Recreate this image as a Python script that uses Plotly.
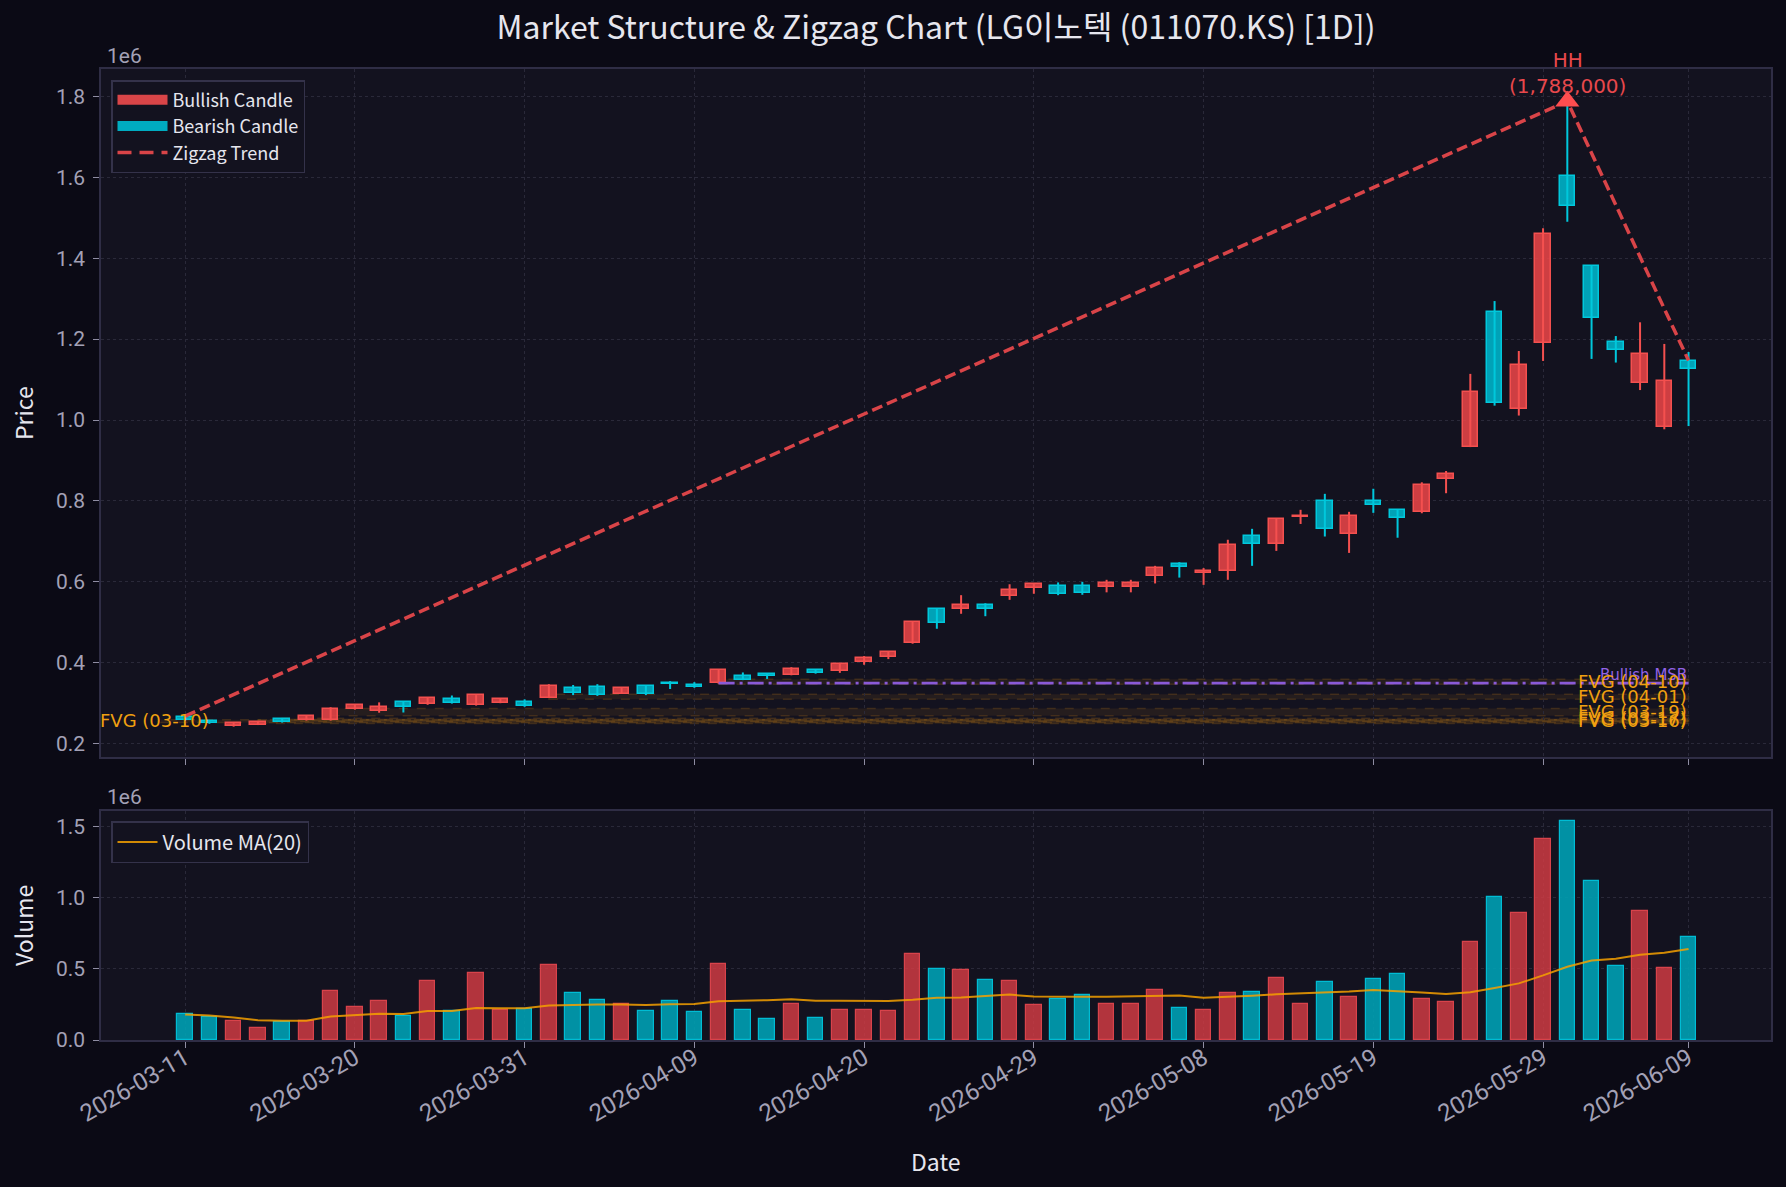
import plotly.graph_objects as go
import pandas as pd

dates = ["2026-03-11","2026-03-12","2026-03-13","2026-03-16","2026-03-17","2026-03-18","2026-03-19","2026-03-20",
         "2026-03-23","2026-03-24","2026-03-25","2026-03-26","2026-03-27","2026-03-30","2026-03-31",
         "2026-04-01","2026-04-02","2026-04-03","2026-04-06","2026-04-07","2026-04-08","2026-04-09",
         "2026-04-10","2026-04-13","2026-04-14","2026-04-15","2026-04-16","2026-04-17","2026-04-20",
         "2026-04-21","2026-04-22","2026-04-23","2026-04-24","2026-04-27","2026-04-28","2026-04-29",
         "2026-04-30","2026-05-01","2026-05-04","2026-05-05","2026-05-06","2026-05-07","2026-05-08",
         "2026-05-11","2026-05-12","2026-05-13","2026-05-14","2026-05-15","2026-05-18","2026-05-19",
         "2026-05-20","2026-05-21","2026-05-22","2026-05-26","2026-05-27","2026-05-28","2026-05-29",
         "2026-06-01","2026-06-02","2026-06-04","2026-06-05","2026-06-08","2026-06-09"]

open_ = [265000,256000,243000,247000,260000,257500,257500,285000,280000,302000,
         297000,309500,294500,301000,303000,313500,337000,340000,323500,341500,
         349500,344000,349000,366000,372000,370000,381000,380000,402500,413000,
         449000,534000,533500,541500,565500,585500,588500,588500,587000,587000,
         615500,644500,621500,628000,713000,694500,760000,799500,717000,800000,
         777000,773500,855000,934000,1266000,1028000,1191000,1602000,1381500,1193500,
         1091000,983500,1147000]
high = [268000,258000,251000,256000,261000,269000,290000,296000,302000,303000,
        313000,319000,320000,311000,309500,347000,345000,347000,340000,345000,
        354500,352000,382000,376000,373000,389000,382000,398000,416500,429000,
        501000,535000,567000,547000,594000,594500,598500,600000,605000,605000,
        639500,648500,634000,704000,731000,756000,778000,817500,773000,830000,
        778000,846000,874000,1114000,1294000,1170500,1474000,1788000,1382000,1207500,
        1241500,1188000,1168000]
low = [257000,249000,242000,246000,252000,257000,257000,284000,276500,277000,
       296000,299000,294000,300000,291000,313000,320000,318000,323000,320000,
       335000,338000,348000,357000,360000,369000,373000,375000,395000,409000,
       447000,484000,521000,515000,555500,570500,567000,568000,574000,574000,
       596000,610500,592500,605000,639500,676500,743000,712000,671500,770500,
       709000,769500,819000,933000,1035500,1011000,1146000,1490000,1151000,1142000,
       1074000,977000,985000]
close = [258000,250000,250000,253500,253000,267500,285000,294500,290000,290000,
         312000,299500,319500,309500,292000,341500,326000,321000,337000,323500,
         346500,339000,381000,358000,368000,383500,375000,396500,410500,425500,
         499500,497000,541500,533500,579000,593500,570500,572000,596500,597000,
         634000,635500,626500,690500,694500,755500,763000,729500,762500,791000,
         759000,839000,866000,1068500,1043000,1135000,1460000,1528000,1251500,1172500,
         1162500,1095500,1125500]
volume = [180000,164000,131000,82000,124000,136000,342000,230000,272000,171000,
          413000,202000,469000,213000,216000,525000,328000,279000,251000,202000,
          272000,195000,532000,209000,145000,251000,152000,209000,209000,202000,
          602000,497000,490000,420000,413000,244000,286000,314000,251000,251000,
          349000,223000,209000,328000,335000,434000,251000,406000,300000,427000,
          462000,286000,265000,687000,1003000,891000,1411000,1538000,1116000,518000,
          905000,504000,722000]

# zigzag pivots (bar index, price)
zz_idx = [0, 57, 62]
zz_price = [268000, 1788000, 1147000]
hh_idx = 57
hh_price = 1788000

# Bullish MSB level
msb_start = 22
msb_level = 349500

# FVG zones: label, start index, bottom, top
fvg_labels = ["FVG (03-10)", "FVG (03-16)", "FVG (03-17)", "FVG (03-19)", "FVG (04-01)", "FVG (04-10)"]
fvg_start = [-1, 3, 4, 6, 15, 22]
fvg_bottom = [252000, 250000, 255000, 269000, 310000, 347000]
fvg_top = [259000, 259000, 263000, 287000, 322000, 359000]
fvg_label_y = [257000, 256000, 263000, 279000, 316000, 353000]

tick_step = 7
tick_idx = sorted(set(list(range(0, len(dates), tick_step)) + [len(dates) - 1]))
tick_txt = [dates[i] for i in tick_idx]

n = len(dates)
idx = list(range(n))
up = [c >= o for o, c in zip(open_, close)]

RED_FILL = "rgba(232,68,72,0.88)"
RED_EDGE = "#f4504f"
CY_FILL = "rgba(0,178,200,0.9)"
CY_EDGE = "#00c8dc"
VRED_FILL = "rgba(214,60,68,0.82)"
VRED_EDGE = "#d8434b"
VCY_FILL = "rgba(0,160,178,0.9)"
VCY_EDGE = "#00bcd4"

PAPER = "#0b0a15"
PLOT = "#13121f"
GRID = "#2a2939"
SPINE = "#2f2d45"
TICKC = "#a3a1b6"
TXT = "#e6e6ee"
YTICKFONT = dict(family="Roboto", size=21, color=TICKC)
XTICKFONT = dict(family="Roboto", size=24, color=TICKC)
UIFONT = "Noto Sans CJK KR"

fig = go.Figure()

x_end = n - 1
for lab, s, b, t in zip(fvg_labels, fvg_start, fvg_bottom, fvg_top):
    fig.add_shape(type="rect", xref="x", yref="y", x0=s, x1=x_end, y0=b, y1=t,
                  fillcolor="rgba(255,160,20,0.08)",
                  line=dict(color="rgba(255,160,20,0.16)", width=1.5, dash="dash"),
                  layer="below")

# wicks
for flag, col in ((True, RED_EDGE), (False, CY_EDGE)):
    wx, wy = [], []
    for i in idx:
        if up[i] == flag:
            wx += [i, i, None]
            wy += [low[i], high[i], None]
    fig.add_trace(go.Scatter(x=wx, y=wy, mode="lines", line=dict(color=col, width=2),
                             hoverinfo="skip", showlegend=False, xaxis="x", yaxis="y"))

# bodies
for flag, fill, edge in ((True, RED_FILL, RED_EDGE), (False, CY_FILL, CY_EDGE)):
    bx = [i for i in idx if up[i] == flag]
    bbase = [min(open_[i], close[i]) for i in bx]
    bh = [abs(close[i] - open_[i]) for i in bx]
    fig.add_trace(go.Bar(x=bx, y=bh, base=bbase, width=0.64,
                         marker=dict(color=fill, line=dict(color=edge, width=1.5)),
                         showlegend=False, xaxis="x", yaxis="y"))

# MSB line
fig.add_trace(go.Scatter(x=[msb_start, x_end], y=[msb_level, msb_level], mode="lines",
                         line=dict(color="#8a5ad8", width=2.8, dash="16px,5px,3px,5px"),
                         showlegend=False, xaxis="x", yaxis="y"))

# zigzag
fig.add_trace(go.Scatter(x=zz_idx, y=zz_price, mode="lines",
                         line=dict(color="#d94448", width=3.5, dash="11px,5px"),
                         showlegend=False, xaxis="x", yaxis="y"))

# HH marker
fig.add_trace(go.Scatter(x=[hh_idx], y=[hh_price], mode="markers",
                         marker=dict(symbol="triangle-up", size=21, color="#ff4d4f"),
                         showlegend=False, xaxis="x", yaxis="y"))

# legend entries (price)
fig.add_trace(go.Scatter(x=[None], y=[None], mode="lines", name="Bullish Candle",
                         line=dict(color="#d94548", width=12), xaxis="x", yaxis="y", legend="legend"))
fig.add_trace(go.Scatter(x=[None], y=[None], mode="lines", name="Bearish Candle",
                         line=dict(color="#00acc1", width=12), xaxis="x", yaxis="y", legend="legend"))
fig.add_trace(go.Scatter(x=[None], y=[None], mode="lines", name="Zigzag Trend",
                         line=dict(color="#d94448", width=3.5, dash="14px,8px"), xaxis="x", yaxis="y",
                         legend="legend"))

# volume
for flag, fill, edge in ((True, VRED_FILL, VRED_EDGE), (False, VCY_FILL, VCY_EDGE)):
    vx = [i for i in idx if up[i] == flag]
    vy = [volume[i] for i in vx]
    fig.add_trace(go.Bar(x=vx, y=vy, width=0.64,
                         marker=dict(color=fill, line=dict(color=edge, width=1.2)),
                         showlegend=False, xaxis="x2", yaxis="y2"))

vol_ma = pd.Series(volume).rolling(20, min_periods=1).mean()
fig.add_trace(go.Scatter(x=idx, y=vol_ma, mode="lines", name="Volume MA(20)",
                         line=dict(color="rgba(245,160,0,0.85)", width=2),
                         xaxis="x2", yaxis="y2", legend="legend2"))

price_ticks = [200000 * k for k in range(1, 10)]
price_txt = ["%.1f" % (v / 1e6) for v in price_ticks]
vol_ticks = [0, 500000, 1000000, 1500000]
vol_txt = ["%.1f" % (v / 1e6) for v in vol_ticks]

L, R, T, B = 101, 15, 69, 147
W, H = 1786, 1187
ph = H - T - B
def py(Y):
    return (H - B - Y) / ph
def px(X):
    return (X - L) / (W - L - R)

xcommon = dict(range=[-3.47, 65.4], tickvals=tick_idx, showgrid=True, gridcolor=GRID, griddash="dot",
               gridwidth=1, showline=True, mirror=True, linecolor=SPINE, linewidth=1.5,
               ticks="outside", ticklen=6, tickcolor="#8f8da3", zeroline=False)
ycommon = dict(tickfont=YTICKFONT, showgrid=True, gridcolor=GRID, griddash="dot",
               showline=True, mirror=True, linecolor=SPINE, linewidth=1.5, ticks="outside",
               ticklen=6, tickcolor="#8f8da3", zeroline=False, ticklabelstandoff=4)

fig.update_layout(
    width=W, height=H,
    margin=dict(l=L, r=R, t=T, b=B),
    paper_bgcolor=PAPER, plot_bgcolor=PLOT,
    barmode="overlay", bargap=0,
    showlegend=True,
    xaxis=dict(domain=[0, 1], anchor="y", showticklabels=False, matches="x2", **xcommon),
    xaxis2=dict(domain=[0, 1], anchor="y2", ticktext=tick_txt, tickangle=-30,
                tickfont=XTICKFONT, ticklabelstandoff=-13, **xcommon),
    yaxis=dict(domain=[py(757), 1], anchor="x", range=[167000, 1867600], tickvals=price_ticks,
               ticktext=price_txt, **ycommon),
    yaxis2=dict(domain=[0, py(811)], anchor="x2", range=[0, 1610000], tickvals=vol_ticks,
                ticktext=vol_txt, **ycommon),
    legend=dict(x=px(111), y=py(80), xanchor="left", yanchor="top", bgcolor=PLOT,
                bordercolor="#34324a", borderwidth=1.5, font=dict(family=UIFONT, size=18, color=TXT),
                itemwidth=50, tracegroupgap=0),
    legend2=dict(x=px(111), y=py(821), xanchor="left", yanchor="top", bgcolor=PLOT,
                 bordercolor="#34324a", borderwidth=1.5, font=dict(family=UIFONT, size=20, color=TXT),
                 itemwidth=40),
    title=dict(text="Market Structure & Zigzag Chart (LG이노텍 (011070.KS) [1D])",
               x=0.5, xref="paper", xanchor="center", y=1 - 28 / H, yanchor="middle",
               font=dict(family=UIFONT, size=32, color=TXT)),
)

ann = []
ann.append(dict(text="Price", xref="paper", yref="paper", x=px(23), y=py(413), showarrow=False,
                xanchor="center", yanchor="middle", textangle=-90,
                font=dict(family=UIFONT, size=23, color=TXT)))
ann.append(dict(text="Volume", xref="paper", yref="paper", x=px(23), y=py(926), showarrow=False,
                xanchor="center", yanchor="middle", textangle=-90,
                font=dict(family=UIFONT, size=23, color=TXT)))
ann.append(dict(text="Date", xref="paper", yref="paper", x=0.5, y=py(1161), showarrow=False,
                xanchor="center", yanchor="middle", font=dict(family=UIFONT, size=23, color=TXT)))
ann.append(dict(text="1e6", xref="paper", yref="paper", x=px(105), y=py(56), xanchor="left",
                yanchor="middle", showarrow=False, font=YTICKFONT))
ann.append(dict(text="1e6", xref="paper", yref="paper", x=px(105), y=py(797), xanchor="left",
                yanchor="middle", showarrow=False, font=YTICKFONT))
ann.append(dict(text="HH<br>(%s)" % format(hh_price, ","), x=hh_idx, y=hh_price, xref="x", yref="y",
                yshift=1, yanchor="bottom", showarrow=False, align="center",
                font=dict(family="DejaVu Sans", size=20, color="#e8484c")))
ann.append(dict(text="Bullish MSB", x=x_end, y=msb_level, xref="x", yref="y", xanchor="right",
                yanchor="bottom", yshift=-3, showarrow=False,
                font=dict(family="DejaVu Sans", size=15, color="#9263e6")))
for lab, s, yv in zip(fvg_labels, fvg_start, fvg_label_y):
    if s < 0:
        ann.append(dict(text=lab, x=px(98), y=yv, xref="paper", yref="y", xanchor="left",
                        yanchor="middle", showarrow=False,
                        font=dict(family="DejaVu Sans", size=18, color="#f0a010")))
    else:
        ann.append(dict(text=lab, x=x_end, y=yv, xref="x", yref="y", xanchor="right", yanchor="middle",
                        showarrow=False, font=dict(family="DejaVu Sans", size=18, color="#f0a010")))
fig.update_layout(annotations=ann)

fig.write_html("out.html")
